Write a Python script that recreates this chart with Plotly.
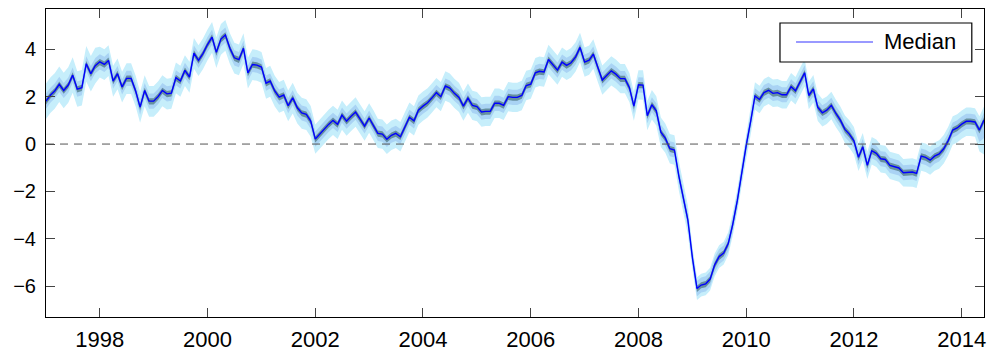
import pandas as pd
import plotly.graph_objects as go

# Monthly median, January 1997 onwards
MEDIAN = [
    1.81, 2.07, 2.24, 2.52, 2.26, 2.49, 2.91, 2.32, 2.38, 3.39, 2.97, 3.31,   # 1997
    3.47, 3.36, 3.53, 2.66, 2.97, 2.41, 2.77, 2.77, 2.24, 1.56, 2.26, 1.81,   # 1998
    1.81, 2.01, 2.26, 2.12, 2.15, 2.80, 2.66, 3.11, 2.83, 3.84, 3.53, 3.82,   # 1999
    4.20, 4.51, 3.87, 4.43, 4.60, 4.04, 3.64, 3.56, 4.04, 3.00, 3.36, 3.33,   # 2000
    3.25, 2.57, 2.66, 2.24, 1.98, 2.07, 1.62, 1.95, 1.53, 1.31, 1.25, 0.97,   # 2001
    0.21, 0.44, 0.63, 0.83, 1.00, 0.83, 1.22, 0.97, 1.17, 1.35, 1.05, 0.76,   # 2002
    1.10, 0.79, 0.45, 0.42, 0.20, 0.37, 0.45, 0.31, 0.73, 1.13, 0.98, 1.43,   # 2003
    1.60, 1.74, 1.94, 2.17, 2.00, 2.45, 2.36, 2.14, 1.97, 1.60, 1.94, 1.63,   # 2004
    1.58, 1.35, 1.38, 1.38, 1.72, 1.72, 1.63, 2.00, 1.97, 1.97, 2.05, 2.47,   # 2005
    2.53, 3.01, 3.07, 3.04, 3.57, 3.32, 3.12, 3.46, 3.32, 3.43, 3.68, 4.08,   # 2006
    3.46, 3.54, 3.80, 3.23, 2.70, 2.90, 3.09, 2.95, 2.76, 2.76, 2.38, 1.60,   # 2007
    2.50, 2.49, 1.20, 1.66, 1.40, 0.50, 0.25, -0.20, -0.25, -1.35, -2.25, -3.20,  # 2008
    -4.80, -6.10, -5.95, -5.90, -5.70, -5.10, -4.75, -4.60, -4.20, -3.40, -2.40, -1.20,  # 2009
    -0.05, 1.00, 2.03, 1.88, 2.17, 2.27, 2.14, 2.17, 2.08, 2.08, 2.42, 2.25,  # 2010
    2.64, 3.01, 2.05, 2.33, 1.55, 1.32, 1.43, 1.63, 1.29, 1.01, 0.62, 0.42,   # 2011
    0.14, -0.56, -0.11, -0.90, -0.28, -0.39, -0.62, -0.65, -0.90, -0.96, -1.01, -1.21,  # 2012
    -1.18, -1.18, -1.24, -0.51, -0.56, -0.68, -0.51, -0.42, -0.20, 0.14, 0.59, 0.68,  # 2013
    0.84, 0.96, 0.96, 0.93, 0.59, 1.01,                                       # 2014
]

# Band half-widths as (number of months, value) runs
OUTER_UP = [(12, 0.75), (48, 0.64), (84, 0.62), (12, 0.48), (24, 0.58), (12, 0.58), (18, 0.58)]
OUTER_DN = [(12, 0.75), (48, 0.66), (84, 0.62), (12, 0.48), (24, 0.58), (12, 0.58), (16, 0.62), (1, 0.90), (1, 1.45)]
MID_UP = [(210, 0.32)]
MID_DN = [(208, 0.32), (1, 0.50), (1, 0.75)]
INNER_UP = [(210, 0.12)]
INNER_DN = [(210, 0.14)]

START = "1997-01-01"
TICK_YEARS = [1998, 2000, 2002, 2004, 2006, 2008, 2010, 2012, 2014]
Y_TICKS = [-6, -4, -2, 0, 2, 4]

OUTER_COLOR = "#c6eefb"
MID_COLOR = "#a9d3f4"
INNER_COLOR = "#66909f"
LINE_COLOR = "#0000ff"
FONT = "Liberation Sans, Arial, Helvetica, sans-serif"


def expand(runs):
    out = []
    for n, v in runs:
        out += [v] * n
    return out


dates = pd.date_range(START, periods=len(MEDIAN), freq="MS")

fig = go.Figure()


def add_band(up_runs, dn_runs, color):
    up = expand(up_runs)
    dn = expand(dn_runs)
    lo = [m - d for m, d in zip(MEDIAN, dn)]
    hi = [m + u for m, u in zip(MEDIAN, up)]
    fig.add_trace(go.Scatter(x=dates, y=lo, mode="lines", line=dict(width=0, color=color),
                             hoverinfo="skip", showlegend=False))
    fig.add_trace(go.Scatter(x=dates, y=hi, mode="lines", line=dict(width=0, color=color),
                             fill="tonexty", fillcolor=color, hoverinfo="skip", showlegend=False))


add_band(OUTER_UP, OUTER_DN, OUTER_COLOR)
add_band(MID_UP, MID_DN, MID_COLOR)
add_band(INNER_UP, INNER_DN, INNER_COLOR)

fig.add_trace(go.Scatter(x=dates, y=MEDIAN, mode="lines", name="Median",
                         line=dict(color=LINE_COLOR, width=1.4), showlegend=False))

# Dashed zero reference line
fig.add_shape(type="line", xref="paper", x0=0, x1=1, yref="y", y0=0, y1=0,
              line=dict(color="#555555", width=1, dash="8px,6px"), layer="above")

# Boxed legend in the upper right corner
fig.add_shape(type="rect", xref="paper", yref="paper", x0=0.7825, x1=0.987, y0=0.828, y1=0.9545,
              line=dict(color="black", width=1.2), fillcolor="white", layer="above")
fig.add_shape(type="line", xref="paper", yref="paper", x0=0.7996, x1=0.8817, y0=0.8929, y1=0.8929,
              line=dict(color="#3535ff", width=1.2), layer="above")
fig.add_annotation(xref="paper", yref="paper", x=0.8915, y=0.8929, text="Median",
                   showarrow=False, xanchor="left", yanchor="middle",
                   font=dict(family=FONT, size=22, color="black"))

fig.update_layout(
    width=992, height=353,
    margin=dict(l=46, r=8, t=9, b=36, autoexpand=False),
    paper_bgcolor="white", plot_bgcolor="white",
    font=dict(family=FONT, size=20, color="black"),
    showlegend=False,
)
fig.update_xaxes(
    type="date", range=[dates[0], dates[-1]],
    tickvals=[pd.Timestamp(year=y, month=1, day=1) for y in TICK_YEARS],
    ticktext=[str(y) for y in TICK_YEARS],
    tickfont=dict(size=22), automargin=False,
    ticks="inside", ticklen=9, tickwidth=1, tickcolor="#444444",
    showline=True, linecolor="black", linewidth=1, mirror="allticks",
    showgrid=False, zeroline=False, ticklabelstandoff=3,
)
fig.update_yaxes(
    range=[-7.3, 5.7], tickvals=Y_TICKS,
    tickfont=dict(size=20), automargin=False,
    ticks="inside", ticklen=9, tickwidth=1, tickcolor="#444444",
    showline=True, linecolor="black", linewidth=1, mirror="allticks",
    showgrid=False, zeroline=False, ticklabelstandoff=5,
)

fig.write_html("out.html")
